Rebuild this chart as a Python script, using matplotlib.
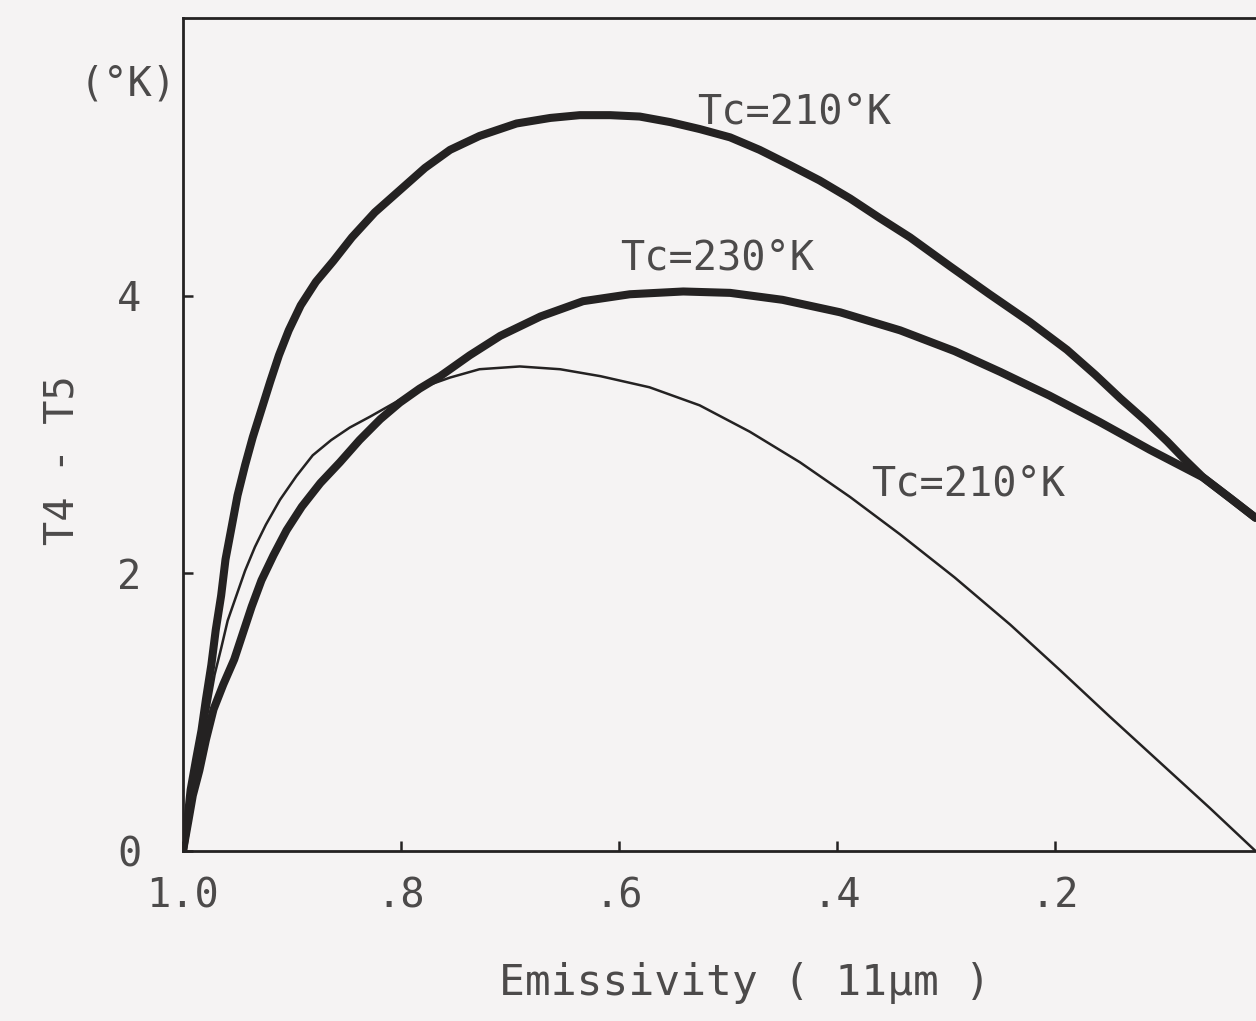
import matplotlib
matplotlib.use('Agg')
import matplotlib.pyplot as plt

# Data ##################################
# thick curve, Tc = 210 K
e_210a = [1.000, 0.996, 0.993, 0.988, 0.983, 0.979, 0.974, 0.970, 0.965, 0.961,
          0.955, 0.950, 0.943, 0.936, 0.928, 0.920, 0.912, 0.903, 0.892, 0.878,
          0.862, 0.845, 0.824, 0.801, 0.778, 0.755, 0.728, 0.694, 0.663, 0.636,
          0.608, 0.581, 0.553, 0.526, 0.498, 0.471, 0.443, 0.416, 0.388, 0.361,
          0.333, 0.296, 0.260, 0.223, 0.189, 0.163, 0.140, 0.117, 0.097, 0.081,
          0.064, 0.039, 0.016]
d_210a = [0.00, 0.22, 0.44, 0.66, 0.87, 1.09, 1.34, 1.59, 1.84, 2.10,
          2.35, 2.56, 2.78, 2.98, 3.18, 3.38, 3.57, 3.75, 3.93, 4.10,
          4.25, 4.42, 4.60, 4.76, 4.92, 5.05, 5.15, 5.24, 5.28, 5.30,
          5.30, 5.29, 5.25, 5.20, 5.14, 5.05, 4.94, 4.83, 4.70, 4.56,
          4.42, 4.21, 4.01, 3.81, 3.61, 3.43, 3.26, 3.10, 2.95, 2.82,
          2.69, 2.54, 2.40]

# thick curve, Tc = 230 K
e_230 = [1.000, 0.995, 0.991, 0.985, 0.979, 0.972, 0.963, 0.953, 0.945, 0.937,
         0.928, 0.917, 0.905, 0.891, 0.874, 0.856, 0.838, 0.819, 0.801, 0.783,
         0.764, 0.737, 0.709, 0.672, 0.633, 0.590, 0.541, 0.498, 0.450, 0.397,
         0.342, 0.292, 0.250, 0.205, 0.159, 0.113, 0.064, 0.039, 0.016]
d_230 = [0.00, 0.22, 0.40, 0.58, 0.80, 1.02, 1.20, 1.38, 1.57, 1.76,
         1.95, 2.13, 2.31, 2.48, 2.65, 2.80, 2.96, 3.11, 3.23, 3.33,
         3.42, 3.57, 3.71, 3.85, 3.96, 4.01, 4.03, 4.02, 3.97, 3.88,
         3.75, 3.60, 3.45, 3.28, 3.09, 2.89, 2.69, 2.54, 2.40]

# thin curve, Tc = 210 K
e_210b = [1.000, 0.995, 0.991, 0.986, 0.982, 0.976, 0.971, 0.965, 0.959, 0.951,
          0.943, 0.934, 0.924, 0.911, 0.896, 0.881, 0.864, 0.847, 0.828, 0.810,
          0.792, 0.773, 0.755, 0.728, 0.691, 0.654, 0.617, 0.572, 0.526, 0.480,
          0.434, 0.388, 0.342, 0.292, 0.241, 0.195, 0.150, 0.104, 0.058, 0.016]
d_210b = [0.00, 0.22, 0.40, 0.62, 0.81, 1.05, 1.27, 1.46, 1.66, 1.84,
          2.02, 2.19, 2.35, 2.53, 2.70, 2.85, 2.96, 3.05, 3.13, 3.21,
          3.29, 3.36, 3.41, 3.47, 3.49, 3.47, 3.42, 3.34, 3.21, 3.02,
          2.80, 2.55, 2.28, 1.97, 1.63, 1.30, 0.97, 0.64, 0.31, 0.00]

xticks = [1.0, 0.8, 0.6, 0.4, 0.2]
xlabels = ['1.0', '.8', '.6', '.4', '.2']
yticks = [0, 2, 4]
ylabels = ['0', '2', '4']
#########################################

bg = '#f5f3f3'
ink = '#242222'
txt = '#4c4a4a'
font = 'DejaVu Sans Mono'
fs = 29

fig = plt.figure(figsize=(12.56, 10.21), dpi=100, facecolor=bg)
ax = fig.add_axes([0.1457, 0.1665, 0.8678, 0.8159], facecolor=bg)

ax.plot(e_210b, d_210b, color=ink, linewidth=1.8, solid_joinstyle='round')
ax.plot(e_230, d_230, color=ink, linewidth=5.8, solid_joinstyle='round',
        solid_capstyle='round')
ax.plot(e_210a, d_210a, color=ink, linewidth=5.8, solid_joinstyle='round',
        solid_capstyle='round')

ax.set_xlim(1.0, 0.0)
ax.set_ylim(0, 6)

for s in ['left', 'bottom', 'top']:
    ax.spines[s].set_linewidth(2.0)
    ax.spines[s].set_color(ink)
ax.spines['right'].set_visible(False)

ax.set_xticks(xticks)
ax.set_xticklabels(xlabels)
ax.set_yticks(yticks)
ax.set_yticklabels(ylabels)
ax.tick_params(direction='in', length=7, width=1.8, color=ink,
               labelsize=fs, labelcolor=txt)
ax.tick_params(axis='x', pad=18)
ax.tick_params(axis='y', pad=30)
for lab in ax.get_xticklabels() + ax.get_yticklabels():
    lab.set_family(font)

ax.text(0.528, 5.32, 'Tc=210°K', family=font, fontsize=fs, color=txt,
        ha='left', va='center')
ax.text(0.599, 4.27, 'Tc=230°K', family=font, fontsize=fs, color=txt,
        ha='left', va='center')
ax.text(0.369, 2.64, 'Tc=210°K', family=font, fontsize=fs, color=txt,
        ha='left', va='center')
ax.text(1.0055, 5.52, '(°K)', family=font, fontsize=fs, color=txt,
        ha='right', va='center', clip_on=False)

fig.text(0.0494, 0.5495, 'T4 - T5', family=font, fontsize=fs, color=txt,
         rotation=90, ha='center', va='center')
fig.text(0.593, 0.037, 'Emissivity ( 11µm )', family=font, fontsize=31,
         color=txt, ha='center', va='center')

fig.savefig('out.png', dpi=100, facecolor=bg)
